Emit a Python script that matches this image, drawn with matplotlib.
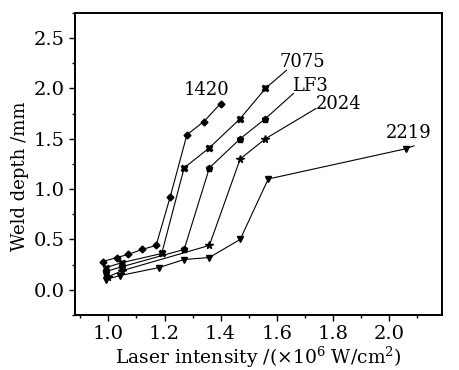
import matplotlib
matplotlib.use("Agg")
import matplotlib.pyplot as plt
from matplotlib.ticker import MultipleLocator, AutoMinorLocator

plt.rcParams["font.family"] = ["DejaVu Serif"]
plt.rcParams["mathtext.fontset"] = "dejavuserif"

# Weld depth (mm) vs laser intensity (x10^6 W/cm^2) for five alloys
x_1420 = [0.98, 1.03, 1.07, 1.12, 1.17, 1.22, 1.28, 1.34, 1.40]
y_1420 = [0.28, 0.32, 0.35, 0.40, 0.44, 0.92, 1.54, 1.67, 1.85]

x_7075 = [0.99, 1.05, 1.19, 1.27, 1.36, 1.47, 1.56]
y_7075 = [0.22, 0.27, 0.36, 1.21, 1.41, 1.70, 2.00]

x_lf3 = [0.99, 1.05, 1.27, 1.36, 1.47, 1.56]
y_lf3 = [0.18, 0.23, 0.40, 1.21, 1.50, 1.70]

x_2024 = [1.00, 1.05, 1.36, 1.47, 1.56]
y_2024 = [0.13, 0.19, 0.44, 1.30, 1.50]

x_2219 = [0.99, 1.04, 1.18, 1.27, 1.36, 1.47, 1.57, 2.06]
y_2219 = [0.10, 0.14, 0.22, 0.30, 0.32, 0.50, 1.10, 1.40]

# label text, label position, end of leader line
labels = ["1420", "7075", "LF3", "2024", "2219"]
label_xy = [(1.35, 1.98), (1.69, 2.26), (1.72, 2.02), (1.82, 1.845), (2.07, 1.56)]
leader_end = [None, (1.635, 2.18), (1.66, 1.95), (1.74, 1.80), (2.09, 1.43)]

series = [
    (x_1420, y_1420, "D", 3.5),
    (x_7075, y_7075, "X", 5),
    (x_lf3, y_lf3, "p", 5),
    (x_2024, y_2024, "*", 5.5),
    (x_2219, y_2219, "v", 5),
]

fig = plt.figure(figsize=(4.59, 3.70), dpi=100)
ax = fig.add_axes([0.163, 0.149, 0.800, 0.816])

for (xs, ys, mk, ms), name, lxy, lend in zip(series, labels, label_xy, leader_end):
    ax.plot(xs, ys, color="black", lw=0.8, marker=mk, ms=ms,
            markerfacecolor="black", markeredgecolor="black")
    if lend is not None:
        ax.plot([xs[-1], lend[0]], [ys[-1], lend[1]], color="black", lw=0.8)
    ax.text(lxy[0], lxy[1], name, fontsize=13, ha="center", va="center")

ax.yaxis.set_major_locator(MultipleLocator(0.5))
ax.xaxis.set_minor_locator(AutoMinorLocator(2))
ax.yaxis.set_minor_locator(AutoMinorLocator(2))
ax.set_xticks([1.0, 1.2, 1.4, 1.6, 1.8, 2.0, 2.2])
ax.set_xticklabels(["1.0", "1.2", "1.4", "1.6", "1.8", "2.0", "2.2"])
ax.set_xlim(0.88, 2.19)
ax.set_ylim(-0.25, 2.75)

ax.tick_params(which="both", direction="out", labelsize=14, width=1)
ax.tick_params(which="major", length=4)
ax.tick_params(which="minor", length=2)
for s in ax.spines.values():
    s.set_linewidth(1.4)

ax.set_xlabel("Laser intensity /(×10$^{6}$ W/cm$^{2}$)", fontsize=13.5, labelpad=1)
ax.set_ylabel("Weld depth /mm", fontsize=13, labelpad=3, y=0.46)

fig.savefig("out.png", dpi=100)
